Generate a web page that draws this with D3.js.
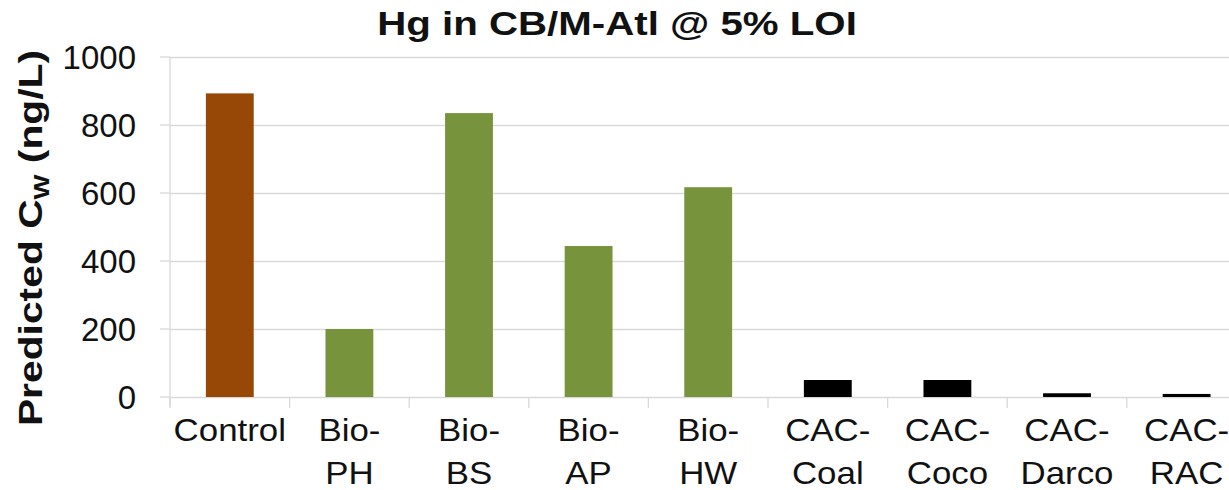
<!DOCTYPE html>
<html><head><meta charset="utf-8">
<script src="https://cdn.jsdelivr.net/npm/d3@7"></script>
<style>body{margin:0;background:#fff}svg{display:block}</style>
</head><body>
<script>
const categories = [["Control"],["Bio-","PH"],["Bio-","BS"],["Bio-","AP"],["Bio-","HW"],["CAC-","Coal"],["CAC-","Coco"],["CAC-","Darco"],["CAC-","RAC"]];
const values = [893, 200, 835, 444, 617, 50, 50, 11, 9];
const barColors = ["#974806","#77933C","#77933C","#77933C","#77933C","#000000","#000000","#000000","#000000"];
const yTicks = [0,200,400,600,800,1000];
const title = "Hg in CB/M-Atl @ 5% LOI";

const W=1229,H=490;
const svg=d3.select("body").append("svg").attr("width",W).attr("height",H);
const x0=170, x1=170+9*119.6, yTop=57, yBot=397;
const x=d3.scaleBand().domain(d3.range(categories.length)).range([x0,x1]).paddingInner(0.6).paddingOuter(0.3);
const y=d3.scaleLinear().domain([0,1000]).range([yBot,yTop]);
const font="Liberation Sans, Arial, sans-serif";

// gridlines
const gy=svg.append("g").attr("transform",`translate(${x0},0)`)
  .call(d3.axisLeft(y).tickValues(yTicks).tickSize(-(W-x0)).tickSizeOuter(0).tickFormat(""));
gy.select(".domain").remove();
gy.selectAll(".tick line").attr("stroke","#d9d9d9").attr("stroke-width",1.3);
svg.append("g").selectAll("line").data(yTicks).join("line")
  .attr("x1",x0-10).attr("x2",x0).attr("y1",d=>y(d)).attr("y2",d=>y(d)).attr("stroke","#d9d9d9").attr("stroke-width",1.3);
svg.append("line").attr("x1",x0).attr("x2",x0).attr("y1",yTop).attr("y2",yBot+10).attr("stroke","#d9d9d9").attr("stroke-width",1.3);
// y tick labels
svg.append("g").selectAll("text").data(yTicks).join("text")
  .attr("x",136).attr("y",d=>y(d)).attr("dy","0.36em").attr("text-anchor","end")
  .attr("font-family",font).attr("font-size",33).attr("fill","#111").text(d=>d);
// x category ticks
const bw=x.step();
svg.append("g").selectAll("line").data(d3.range(categories.length+1)).join("line")
  .attr("x1",i=>x0+i*bw).attr("x2",i=>x0+i*bw).attr("y1",yBot).attr("y2",yBot+11)
  .attr("stroke","#d9d9d9").attr("stroke-width",1.3);
// bars
svg.append("g").selectAll("rect").data(values).join("rect")
  .attr("x",(d,i)=>x(i)).attr("width",x.bandwidth())
  .attr("y",d=>y(d)).attr("height",d=>yBot-y(d))
  .attr("fill",(d,i)=>barColors[i]);
// category labels
const cl=svg.append("g").selectAll("text").data(categories).join("text")
  .attr("text-anchor","middle").attr("font-family",font).attr("font-size",32).attr("fill","#111")
  .attr("transform",(d,i)=>`translate(${x(i)+x.bandwidth()/2},0) scale(1.09,1)`);
cl.selectAll("tspan").data(d=>d).join("tspan").attr("x",0).attr("y",(d,j)=>441+j*43).text(d=>d);
// title
svg.append("text").attr("transform","translate(617,35) scale(1.22,1)").attr("text-anchor","middle")
  .attr("font-family",font).attr("font-weight","bold").attr("font-size",33).attr("fill","#111").text(title);
// y label
const yl=svg.append("text").attr("transform","translate(42,238) rotate(-90) scale(1.2,1)").attr("text-anchor","middle")
  .attr("font-family",font).attr("font-weight","bold").attr("font-size",34).attr("fill","#111");
yl.append("tspan").text("Predicted C");
yl.append("tspan").attr("font-size",22).attr("dy",7).text("W");
yl.append("tspan").attr("dy",-7).text(" (ng/L)");
</script>
</body></html>
